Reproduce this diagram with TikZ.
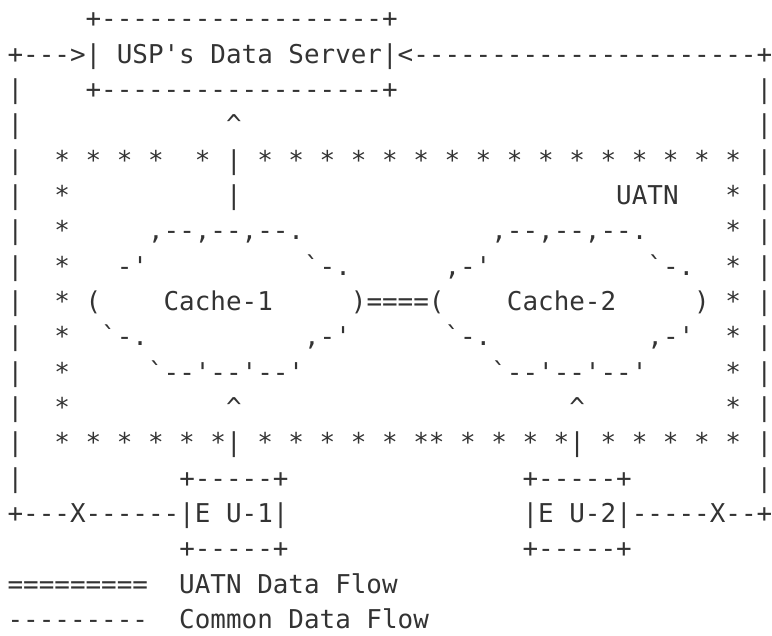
\documentclass[tikz,border=0pt]{standalone}
\usepackage{fontspec}
\setmonofont{DejaVu Sans Mono}
\usepackage{tikz}
\usepackage{xcolor}
\definecolor{inkc}{HTML}{333333}
% run of blank character cells
\newcommand{\gap}[1]{\hspace*{#1\fontdimen2\font}}
\newcommand{\caret}{\textasciicircum}
\tikzset{
  ascii/.style={anchor=base west, inner sep=0pt, text=inkc,
    font=\ttfamily\fontsize{12.96pt}{17.67pt}\selectfont\frenchspacing},
}

\begin{document}
\begin{tikzpicture}[x=0.5pt, y=0.5pt]
\useasboundingbox (0,0) rectangle (772,-636);
\node[ascii] (row1)  at (7.2,-27.80)  {\gap{5}+------------------+};
\node[ascii] (row2)  at (7.2,-63.13)  {+--->| USP's Data Server|<----------------------+};
\node[ascii] (row3)  at (7.2,-98.47)  {|\gap{4}+------------------+\gap{23}|};
\node[ascii] (row4)  at (7.2,-133.80) {|\gap{13}\caret\gap{33}|};
\node[ascii] (row5)  at (7.2,-169.13) {|\gap{2}* * * *\gap{2}* | * * * * * * * * * * * * * * * * |};
\node[ascii] (row6)  at (7.2,-204.47) {|\gap{2}*\gap{10}|\gap{24}UATN\gap{3}* |};
\node[ascii] (row7)  at (7.2,-239.80) {|\gap{2}*\gap{5},--,--,--.\gap{12},--,--,--.\gap{5}* |};
\node[ascii] (row8)  at (7.2,-275.13) {|\gap{2}*\gap{3}-'\gap{10}`-.\gap{6},-'\gap{10}`-.\gap{2}* |};
\node[ascii] (row9)  at (7.2,-310.47) {|\gap{2}* (\gap{4}Cache-1\gap{5})====(\gap{4}Cache-2\gap{5}) * |};
\node[ascii] (row10) at (7.2,-345.80) {|\gap{2}*\gap{2}`-.\gap{10},-'\gap{6}`-.\gap{10},-'\gap{2}* |};
\node[ascii] (row11) at (7.2,-381.13) {|\gap{2}*\gap{5}`--'--'--'\gap{12}`--'--'--'\gap{5}* |};
\node[ascii] (row12) at (7.2,-416.47) {|\gap{2}*\gap{10}\caret\gap{21}\caret\gap{9}* |};
\node[ascii] (row13) at (7.2,-451.80) {|\gap{2}* * * * * *| * * * * * ** * * * *| * * * * * |};
\node[ascii] (row14) at (7.2,-487.13) {|\gap{10}+-----+\gap{15}+-----+\gap{8}|};
\node[ascii] (row15) at (7.2,-522.47) {+---X------|E U-1|\gap{15}|E U-2|-----X--+};
\node[ascii] (row16) at (7.2,-557.80) {\gap{11}+-----+\gap{15}+-----+};
% key
\node[ascii] (key1)  at (7.2,-593.13) {=========\gap{2}UATN Data Flow};
\node[ascii] (key2)  at (7.2,-628.47) {---------\gap{2}Common Data Flow};
\end{tikzpicture}
\end{document}
